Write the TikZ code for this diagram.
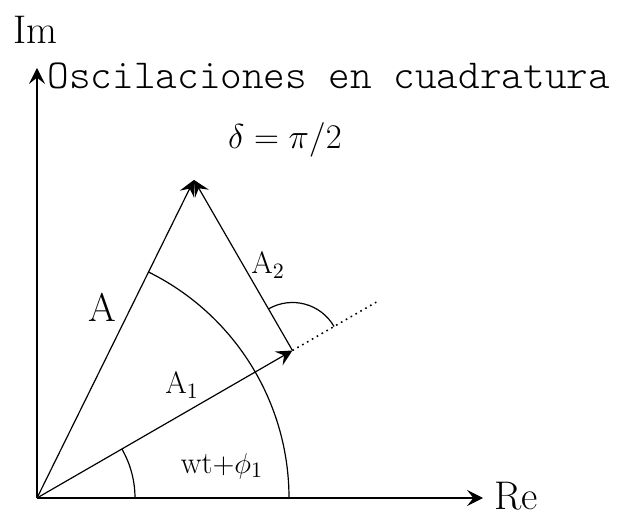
\documentclass[tikz,border=0pt]{standalone}
\usepackage{amsmath,amssymb}
\usepackage{tikz}
\usetikzlibrary{arrows.meta, calc}

\begin{document}
\begin{tikzpicture}[
    x=0.5pt, y=0.5pt,
    line width=0.6pt,
    arrow/.style={-{Stealth[length=2.8mm, width=2.8mm, inset=1.1mm]}},
    axlabel/.style={font=\fontsize{20}{24}\selectfont, inner sep=0pt},
    veclabel/.style={font=\fontsize{15.5}{18}\selectfont, inner sep=0pt}
]
\useasboundingbox (-37,-17) rectangle (585,498);
% ejes
\coordinate (O) at (0,0);
\coordinate (reEnd) at (446,0);
\coordinate (imEnd) at (0,430);
\draw[arrow] (O) -- (reEnd);
\draw[arrow] (O) -- (imEnd);
\node[axlabel] (re) at (479,2) {Re};
\node[axlabel] (im) at (-2,468) {Im};
\node[font=\fontsize{20.6}{24}\selectfont\ttfamily\fontseries{l}\selectfont, inner sep=0pt, anchor=base west] (title) at (10,409) {Oscilaciones en cuadratura};
\node[font=\fontsize{19}{23}\selectfont, inner sep=0pt, anchor=base] (delta) at (248,350) {$\delta=\pi/2$};
% vectores
\coordinate (tipA1) at (30:295);
\coordinate (tipA) at ($(tipA1)+(120:197)$);
\coordinate (dotEnd) at ($(tipA1)+(30:100)$);
\draw[arrow] (O) -- (tipA1);
\draw[arrow] (O) -- (tipA);
\draw[arrow] (tipA1) -- (tipA);
\draw[dotted, line width=0.8pt] (tipA1) -- (dotEnd);
% angulos
\draw (98,0) arc[start angle=0, end angle=30, radius=98];
\draw (252,0) arc[start angle=0, end angle=63.7, radius=252];
\draw ($(tipA1)+(30:48)$) arc[start angle=30, end angle=120, radius=48];
% etiquetas
\node[axlabel] (labA) at (65,191) {A};
\node[veclabel] (labA1) at (145,113) {A$_1$};
\node[veclabel] (labA2) at (231,233) {A$_2$};
\node[veclabel] (labphi) at (185,32) {wt$+\phi_1$};
\end{tikzpicture}
\end{document}
